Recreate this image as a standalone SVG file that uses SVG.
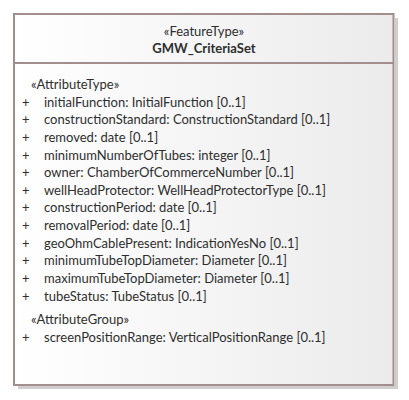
<svg xmlns="http://www.w3.org/2000/svg" width="409" height="400" viewBox="0 0 409 400">
<defs>
<linearGradient id="fillGrad" x1="0" y1="0" x2="1" y2="0">
<stop offset="0" stop-color="#ffffff"/>
<stop offset="1" stop-color="#ebebeb"/>
</linearGradient>
</defs>
<style>
.t{font-family:Lato,"Liberation Sans",sans-serif;font-size:13px;fill:#2e2e2e}
.b{font-weight:bold}
.box{fill:url(#fillGrad);stroke:#a38e8e;stroke-width:2}
.sh{fill:#cfcfcf}
.div{stroke:#a38e8e;stroke-width:2}
</style>
<rect width="409" height="400" fill="#ffffff"/>
<g id="GMW_CriteriaSet">
<rect class="sh" x="395" y="18" width="3" height="371"/>
<rect class="sh" x="18" y="386" width="380" height="3"/>
<rect class="box" x="14" y="14" width="379.5" height="371"/>
<line class="div" x1="14" y1="63" x2="393.5" y2="63"/>
<text class="t" x="204" y="35.5" text-anchor="middle">«FeatureType»</text>
<text class="t b" x="204" y="53" text-anchor="middle">GMW_CriteriaSet</text>
<text class="t" x="31" y="89">«AttributeType»</text>
<g class="t">
<text x="22" y="106.5">+</text><text x="44" y="106.5">initialFunction: InitialFunction [0..1]</text>
<text x="22" y="124.2">+</text><text x="44" y="124.2">constructionStandard: ConstructionStandard [0..1]</text>
<text x="22" y="141.8">+</text><text x="44" y="141.8">removed: date [0..1]</text>
<text x="22" y="159.5">+</text><text x="44" y="159.5">minimumNumberOfTubes: integer [0..1]</text>
<text x="22" y="177.1">+</text><text x="44" y="177.1">owner: ChamberOfCommerceNumber [0..1]</text>
<text x="22" y="194.8">+</text><text x="44" y="194.8">wellHeadProtector: WellHeadProtectorType [0..1]</text>
<text x="22" y="212.4">+</text><text x="44" y="212.4">constructionPeriod: date [0..1]</text>
<text x="22" y="230.1">+</text><text x="44" y="230.1">removalPeriod: date [0..1]</text>
<text x="22" y="247.7">+</text><text x="44" y="247.7">geoOhmCablePresent: IndicationYesNo [0..1]</text>
<text x="22" y="265.4">+</text><text x="44" y="265.4">minimumTubeTopDiameter: Diameter [0..1]</text>
<text x="22" y="283">+</text><text x="44" y="283">maximumTubeTopDiameter: Diameter [0..1]</text>
<text x="22" y="300.7">+</text><text x="44" y="300.7">tubeStatus: TubeStatus [0..1]</text>
</g>
<text class="t" x="31" y="324">«AttributeGroup»</text>
<text class="t" x="22" y="342">+</text><text class="t" x="44" y="342">screenPositionRange: VerticalPositionRange [0..1]</text>
</g>
</svg>
